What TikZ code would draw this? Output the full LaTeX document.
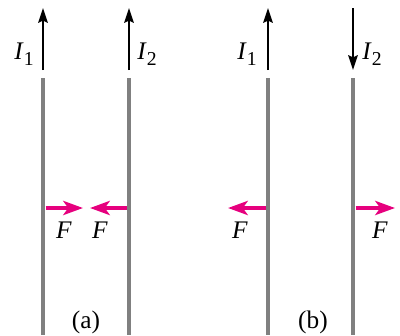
\documentclass[tikz,border=0pt]{standalone}
\usepackage{fontspec}
\setmainfont{Liberation Serif}
\usetikzlibrary{arrows.meta}
\definecolor{wiregray}{RGB}{128,128,128}
\definecolor{forcepink}{RGB}{230,0,126}

\begin{document}
\begin{tikzpicture}[x=0.025cm,y=-0.025cm,every node/.style={font=\fontsize{18}{21}\selectfont},
    wire/.style={wiregray,line width=3.5pt},
    current/.style={-{Stealth[length=10.5pt,width=6.8pt,inset=1.5pt]},line width=1.3pt,black},
    force/.style={-{Stealth[length=14pt,width=10pt,inset=3.5pt]},line width=3pt,forcepink}]
  \useasboundingbox (0,0) rectangle (400,335);
  \foreach \i/\x/\n/\lx/\ya/\yb/\fs/\fe/\fx in {1/43/1/24/70/8/45.5/83/64,2/129/2/147/70/8/126.5/90/100,3/268/1/247/70/8/265.5/228/240,4/353/2/372/8/70/355.5/395/380}{
    \coordinate (top\i) at (\x,78);
    \coordinate (bot\i) at (\x,335);
    \draw[wire] (top\i) -- (bot\i);
    \coordinate (ca\i) at (\x,\ya);
    \coordinate (cb\i) at (\x,\yb);
    \draw[current] (ca\i) -- (cb\i);
    \node (I\i) at (\lx,54) {\textit{I}\raisebox{-4pt}{\fontsize{14}{16}\selectfont\n}};
    \coordinate (fa\i) at (\fs,208);
    \coordinate (fb\i) at (\fe,208);
    \draw[force] (fa\i) -- (fb\i);
    \node (F\i) at (\fx,230) {\textit{F}};
  }
  \node (cap a) at (86,322) {(a)};
  \node (cap b) at (313,322) {(b)};
\end{tikzpicture}
\end{document}
